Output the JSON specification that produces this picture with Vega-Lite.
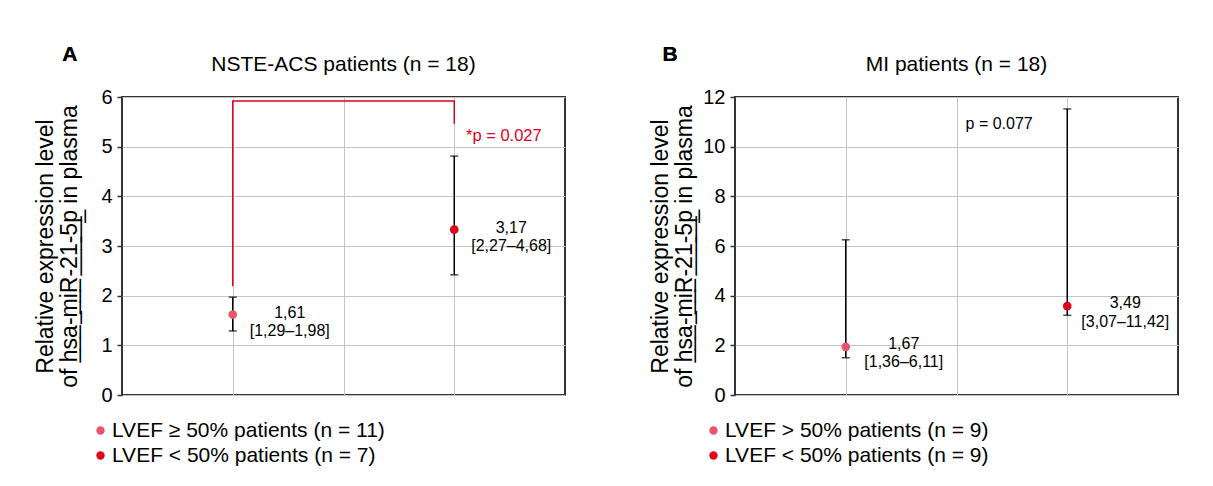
{
  "$schema": "https://vega.github.io/schema/vega-lite/v6.json",
  "autosize": {"type": "none"},
  "padding": {"left": 122, "top": 97, "right": 1091, "bottom": 389},
  "background": "white",
  "bounds": "flush",
  "spacing": 170,
  "config": {
    "font": "Liberation Sans",
    "view": {"stroke": "#333", "strokeWidth": 2},
    "axis": {
      "labelFont": "Liberation Sans", "labelFontSize": 20, "labelColor": "#000",
      "titleFont": "Liberation Sans", "titleFontSize": 23, "titleFontWeight": "normal", "titleColor": "#000",
      "gridColor": "#c4c4c4", "gridWidth": 1, "tickColor": "#333", "tickSize": 5, "tickWidth": 1.5,
      "domain": false, "labelPadding": 5
    },
    "title": {"font": "Liberation Sans", "fontSize": 21, "fontWeight": "normal", "color": "#000", "anchor": "middle", "frame": "group", "offset": -31},
    "legend": {
      "orient": "none", "legendX": -32, "legendY": 323, "direction": "vertical",
      "labelFont": "Liberation Sans", "labelFontSize": 21, "labelColor": "#000", "labelLimit": 400,
      "symbolType": "circle", "symbolSize": 70, "symbolStrokeWidth": 0, "rowPadding": 3, "labelOffset": 1
    }
  },
  "resolve": {"scale": {"color": "independent", "x": "independent", "y": "independent"}},
  "hconcat": [
    {
      "width": 443, "height": 298,
      "title": "NSTE-ACS patients (n = 18)",
      "data": {"values": [
        {"group": "LVEF ≥ 50% patients (n = 11)", "x": 1, "median": 1.62, "lo": 1.29, "hi": 1.97, "label": "1,61\n[1,29–1,98]"},
        {"group": "LVEF < 50% patients (n = 7)", "x": 3, "median": 3.33, "lo": 2.42, "hi": 4.81, "label": "3,17\n[2,27–4,68]"}
      ]},
      "encoding": {
        "x": {"field": "x", "type": "quantitative", "scale": {"domain": [0, 4]},
              "axis": {"values": [1, 2, 3], "labels": false, "ticks": false, "title": null, "grid": true}}
      },
      "layer": [
        {
          "mark": {"type": "rule", "color": "#000", "strokeWidth": 1.5},
          "encoding": {
            "y": {"field": "lo", "type": "quantitative", "scale": {"domain": [0, 6]},
                  "axis": {"values": [0, 1, 2, 3, 4, 5, 6], "title": ["Relative expression level", "of h̲s̲a̲-̲m̲i̲R̲-̲2̲1̲-̲5̲p̲ in plasma"], "titlePadding": 19, "titleLineHeight": 24}},
            "y2": {"field": "hi"}
          }
        },
        {
          "mark": {"type": "tick", "orient": "horizontal", "color": "#000", "size": 8, "thickness": 1.5},
          "encoding": {"y": {"field": "lo", "type": "quantitative"}}
        },
        {
          "mark": {"type": "tick", "orient": "horizontal", "color": "#000", "size": 8, "thickness": 1.5},
          "encoding": {"y": {"field": "hi", "type": "quantitative"}}
        },
        {
          "data": {"values": [
            {"x": 1, "y": 2.19, "o": 0}, {"x": 1, "y": 5.92, "o": 1},
            {"x": 3, "y": 5.92, "o": 2}, {"x": 3, "y": 5.46, "o": 3}
          ]},
          "mark": {"type": "line", "color": "#e3001b", "strokeWidth": 1.5},
          "encoding": {
            "x": {"field": "x", "type": "quantitative"},
            "y": {"field": "y", "type": "quantitative"},
            "order": {"field": "o"}
          }
        },
        {
          "mark": {"type": "circle", "size": 75, "opacity": 1},
          "encoding": {
            "y": {"field": "median", "type": "quantitative"},
            "color": {"field": "group", "type": "nominal",
                      "scale": {"domain": ["LVEF ≥ 50% patients (n = 11)", "LVEF < 50% patients (n = 7)"], "range": ["#e9546b", "#e3001b"]},
                      "legend": {"title": null}}
          }
        },
        {
          "mark": {"type": "text", "fontSize": 16, "color": "#000", "dx": 57, "dy": -2, "align": "center", "baseline": "middle", "lineBreak": "\n", "lineHeight": 18},
          "encoding": {
            "y": {"field": "median", "type": "quantitative"},
            "text": {"field": "label"}
          }
        },
        {
          "data": {"values": [{"x": 3.106, "y": 5.21, "t": "*p = 0.027"}]},
          "mark": {"type": "text", "fontSize": 16.5, "color": "#e3001b", "align": "left", "baseline": "middle"},
          "encoding": {
            "x": {"field": "x", "type": "quantitative"},
            "y": {"field": "y", "type": "quantitative"},
            "text": {"field": "t"}
          }
        },
        {
          "mark": {"type": "text", "fontSize": 21, "fontWeight": "bold", "color": "#000", "text": "A", "align": "center", "baseline": "middle"},
          "encoding": {"x": {"datum": -0.47}, "y": {"datum": 6.85}}
        }
      ]
    },
    {
      "width": 443, "height": 298,
      "title": "MI patients (n = 18)",
      "data": {"values": [
        {"group": "LVEF > 50% patients (n = 9)", "x": 1, "median": 1.94, "lo": 1.5, "hi": 6.25, "label": "1,67\n[1,36–6,11]"},
        {"group": "LVEF < 50% patients (n = 9)", "x": 3, "median": 3.58, "lo": 3.21, "hi": 11.52, "label": "3,49\n[3,07–11,42]"}
      ]},
      "encoding": {
        "x": {"field": "x", "type": "quantitative", "scale": {"domain": [0, 4]},
              "axis": {"values": [1, 2, 3], "labels": false, "ticks": false, "title": null, "grid": true}}
      },
      "layer": [
        {
          "mark": {"type": "rule", "color": "#000", "strokeWidth": 1.5},
          "encoding": {
            "y": {"field": "lo", "type": "quantitative", "scale": {"domain": [0, 12]},
                  "axis": {"values": [0, 2, 4, 6, 8, 10, 12], "title": ["Relative expression level", "of h̲s̲a̲-̲m̲i̲R̲-̲2̲1̲-̲5̲p̲ in plasma"], "titlePadding": 6, "titleLineHeight": 24}},
            "y2": {"field": "hi"}
          }
        },
        {
          "mark": {"type": "tick", "orient": "horizontal", "color": "#000", "size": 8, "thickness": 1.5},
          "encoding": {"y": {"field": "lo", "type": "quantitative"}}
        },
        {
          "mark": {"type": "tick", "orient": "horizontal", "color": "#000", "size": 8, "thickness": 1.5},
          "encoding": {"y": {"field": "hi", "type": "quantitative"}}
        },
        {
          "mark": {"type": "circle", "size": 75, "opacity": 1},
          "encoding": {
            "y": {"field": "median", "type": "quantitative"},
            "color": {"field": "group", "type": "nominal",
                      "scale": {"domain": ["LVEF > 50% patients (n = 9)", "LVEF < 50% patients (n = 9)"], "range": ["#e9546b", "#e3001b"]},
                      "legend": {"title": null}}
          }
        },
        {
          "mark": {"type": "text", "fontSize": 16, "color": "#000", "dx": 58, "dy": -3, "align": "center", "baseline": "middle", "lineBreak": "\n", "lineHeight": 18.5},
          "encoding": {
            "y": {"field": "median", "type": "quantitative"},
            "text": {"field": "label"}
          }
        },
        {
          "data": {"values": [{"x": 2.082, "y": 10.91, "t": "p = 0.077"}]},
          "mark": {"type": "text", "fontSize": 16, "color": "#000", "align": "left", "baseline": "middle"},
          "encoding": {
            "x": {"field": "x", "type": "quantitative"},
            "y": {"field": "y", "type": "quantitative"},
            "text": {"field": "t"}
          }
        },
        {
          "mark": {"type": "text", "fontSize": 21, "fontWeight": "bold", "color": "#000", "text": "B", "align": "center", "baseline": "middle"},
          "encoding": {"x": {"datum": -0.587}, "y": {"datum": 13.7}}
        }
      ]
    }
  ]
}
